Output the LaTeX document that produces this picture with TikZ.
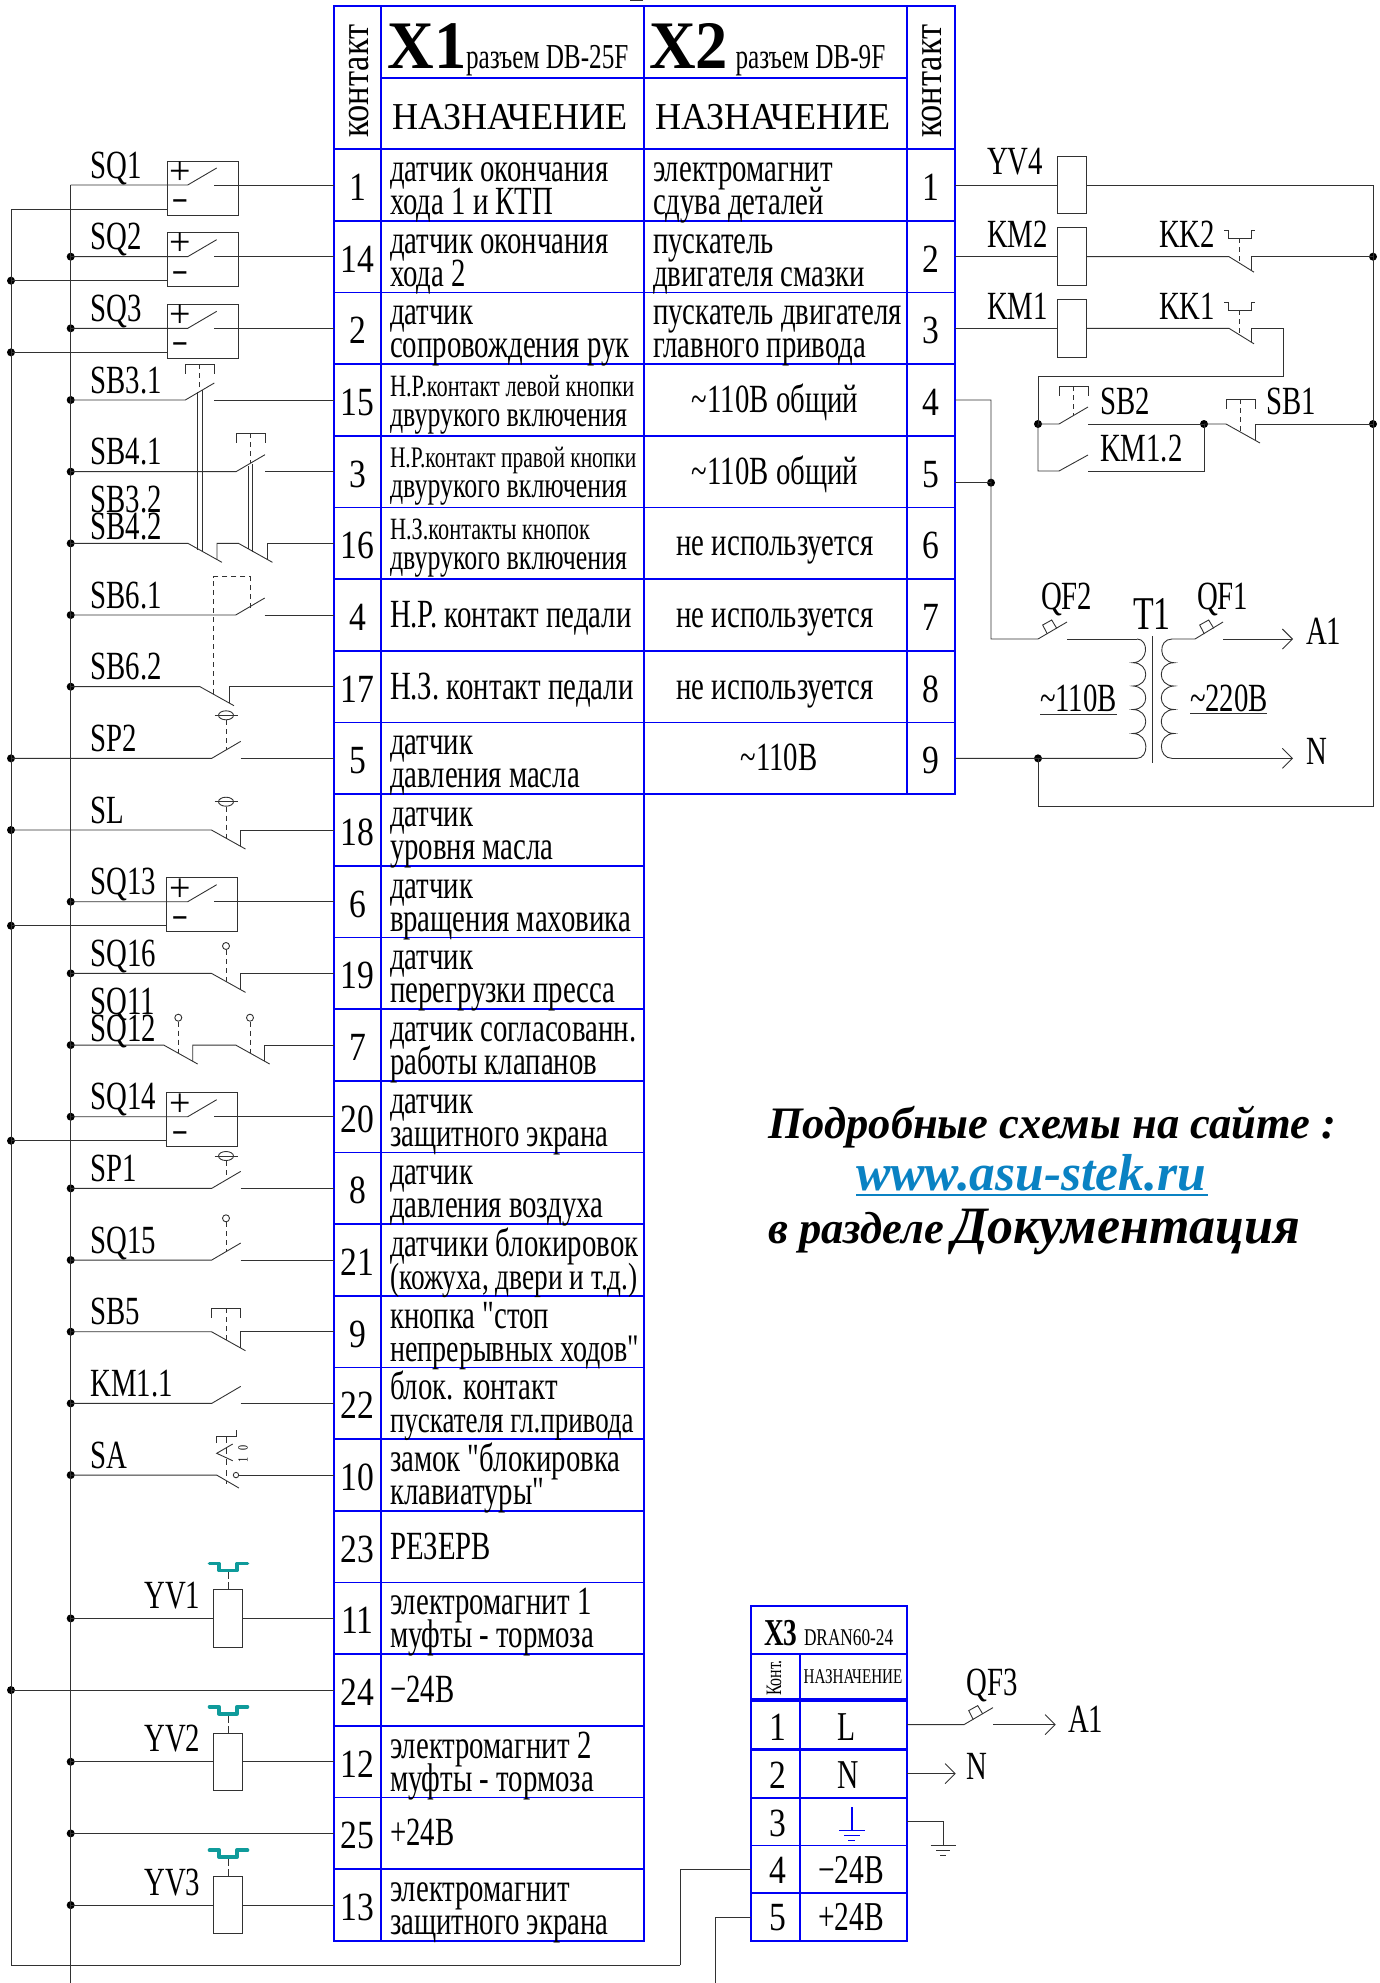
\documentclass[tikz,border=0pt]{standalone}
\usepackage{fontspec}
\setmainfont[FakeStretch=0.72]{Liberation Serif}
\newfontfamily\hdrf[FakeStretch=0.95]{Liberation Serif}
\newfontfamily\annf[FakeStretch=0.99]{Liberation Serif}
\newfontfamily\pinf[FakeStretch=0.84]{Liberation Serif}
\newfontfamily\plainf[FakeStretch=0.72]{Liberation Serif}
\newfontfamily\djf{DejaVu Sans}
\usetikzlibrary{arrows.meta,calc}
\definecolor{tbl}{RGB}{0,0,245}
\definecolor{wirec}{RGB}{50,50,50}
\definecolor{tealc}{RGB}{15,155,155}
\definecolor{linkc}{RGB}{10,130,195}
\newcommand{\fs}[1]{\fontsize{#1}{#1}\selectfont}
\newcommand{\qq}{{\plainf"}}
\tikzset{
  cell/.style={draw=tbl,line width=1.8pt,inner sep=0pt,outer sep=0pt,rectangle},
  wire/.style={draw=wirec,line width=0.9pt},
  dashw/.style={wire,dash pattern=on 5pt off 4pt},
  dot/.style={circle,fill=black,inner sep=0pt,minimum size=8pt},
  nodot/.style={coordinate},
  tx/.style={inner sep=0pt,outer sep=0pt,anchor=base west,font=\fs{40}},
  txc/.style={inner sep=0pt,outer sep=0pt,anchor=base,font=\fs{40}},
  dev/.style={inner sep=0pt,outer sep=0pt,anchor=base west,font=\fs{40}},
  pin/.style={inner sep=0pt,outer sep=0pt,anchor=base,font=\pinf\fs{40}},
  boxs/.style={draw=wirec,line width=0.9pt,minimum width=71pt,minimum height=54pt,inner sep=0pt,outer sep=0pt,rectangle},
  coils/.style={draw=wirec,line width=0.9pt,minimum width=29pt,minimum height=57.5pt,inner sep=0pt,outer sep=0pt,rectangle,fill=white},
  barb/.style={-{Straight Barb[length=10pt,width=20pt,line width=0.9pt]}},
}
\newcounter{nn}
\newcommand{\T}[4][tx]{\stepcounter{nn}\node[#1] (t\arabic{nn}) at (#2,#3) {#4};}
\newcommand{\pyc}[1]{\pgfmathsetmacro\yc{185+71.67*#1}}
\newcommand{\NOw}[2]{\pyc{#1}%
  \draw[wire] (B#1.center) -- (#2,\yc) -- ++(29,-17);
  \draw[wire] (#2+29,\yc) -- (La#1.west);}
\newcommand{\NCw}[2]{\pyc{#1}%
  \draw[wire] (B#1.center) -- (#2,\yc) -- ++(34,19);
  \draw[wire] (#2+29,\yc+16) -- (#2+29,\yc) -- (La#1.west);}
\newcommand{\SQbox}[3]{\pyc{#1}%
  \node[boxs] (Bx#1) at (#2,\yc+3) {};
  \node[#3] (C#1) at (11,\yc+24) {};
  \draw[wire] (B#1.center) -- (187.7,\yc) -- ++(29,-17);
  \draw[wire] (214,\yc) -- (La#1.west);
  \draw[wire] (C#1.center) -- (C#1 -| Bx#1.west);
  \T[inner sep=0pt,anchor=center,font=\hdrf\fs{40}]{180.5}{\yc-12}{+}
  \T[inner sep=0pt,anchor=base,font=\djf\bfseries\fs{21}]{180}{\yc+22.5}{−}}
\newcommand{\ballact}[3]{\draw[wire] (#1,#2) circle[radius=3.5];\draw[dashw] (#1,#2+4) -- (#1,#3);}
\newcommand{\floatact}[3]{\draw[wire] (#1,#2) ellipse[x radius=7.5,y radius=4.5];\draw[wire] (#1-11.5,#2) -- (#1+11.5,#2);\draw[dashw] (#1,#2+5) -- (#1,#3);}
\newcommand{\btn}[4]{\draw[wire] (#1,#3+9.5) -- (#1,#3) -- (#2,#3) -- (#2,#3+9.5);\draw[dashw] ({(#1+#2)/2},#3) -- ({(#1+#2)/2},#4);}
\newcommand{\therm}[2]{\draw[wire] (#1-4.5,#2-8) -- (#1,#2-8) -- (#1,#2) -- (#1+22.5,#2) -- (#1+22.5,#2-8) -- (#1+26.5,#2-8);\draw[dashw] (#1+10.5,#2) -- (#1+10.5,#2+24);}
\newcommand{\qfs}[2]{\draw[wire] (#1+9.3,#2-5) -- (#1+4.7,#2-14) -- (#1+13.7,#2-19) -- (#1+18.7,#2-10.7);}
\newcommand{\tealsym}[1]{\pyc{#1}\draw[tealc,line width=3.6pt,line cap=round,line join=round] (209.5,\yc-55) -- (219,\yc-55) -- (219,\yc-48) -- (237,\yc-48) -- (237,\yc-55) -- (247.5,\yc-55);
  \draw[wire,dash pattern=on 7pt off 3pt] (228.7,\yc-46) -- (228.7,\yc-29);}
\newcommand{\coilrow}[1]{\pyc{#1}\node[coils] (Cl#1) at (228.3,\yc) {};
  \draw[wire] (B#1.center) -- (Cl#1.west);\draw[wire] (Cl#1.east) -- (La#1.west);\tealsym{#1}}
\begin{document}
\begin{tikzpicture}[x=1pt,y=-1pt]
\useasboundingbox (0,0) rectangle (1380,1983);
\draw[wire] (630,0.6) -- (643,0.6);
% ---- main table cells
\node[cell,minimum width=47pt,minimum height=143pt] (HL) at (357.5,77.5) {};
\node[cell,minimum width=263pt,minimum height=72pt] (Hx1) at (512.5,42) {};
\node[cell,minimum width=263pt,minimum height=71pt] (Hn1) at (512.5,113.5) {};
\node[cell,minimum width=263pt,minimum height=72pt] (Hx2) at (775.5,42) {};
\node[cell,minimum width=263pt,minimum height=71pt] (Hn2) at (775.5,113.5) {};
\node[cell,minimum width=48pt,minimum height=143pt] (HR) at (931,77.5) {};
\foreach \k in {0,...,24}{\pyc{\k}
  \node[cell,minimum width=47pt,minimum height=71.67pt] (La\k) at (357.5,\yc) {};
  \node[cell,minimum width=263pt,minimum height=71.67pt] (Da\k) at (512.5,\yc) {};}
\foreach \k in {0,...,8}{\pyc{\k}
  \node[cell,minimum width=263pt,minimum height=71.67pt] (Db\k) at (775.5,\yc) {};
  \node[cell,minimum width=48pt,minimum height=71.67pt] (Ra\k) at (931,\yc) {};}
% header text
\T[anchor=base,inner sep=0pt,rotate=90,font=\pinf\fs{41}]{368}{81}{контакт}
\T[anchor=base,inner sep=0pt,rotate=90,font=\pinf\fs{41}]{941}{81}{контакт}
\T[tx,font=\hdrf\bfseries\fs{68}]{387.5}{69}{X1}
\T[tx,font=\fs{35}]{466}{69}{разъем DB-25F}
\T[tx,font=\hdrf\bfseries\fs{68}]{649}{69}{X2}
\T[tx,font=\fs{35}]{735.5}{69}{разъем DB-9F}
\T[tx,font=\hdrf\fs{38}]{392}{129.5}{НАЗНАЧЕНИЕ}
\T[tx,font=\hdrf\fs{38}]{655}{129.5}{НАЗНАЧЕНИЕ}
% pins
\foreach \k/\p in {0/1,1/14,2/2,3/15,4/3,5/16,6/4,7/17,8/5,9/18,10/6,11/19,12/7,13/20,14/8,15/21,16/9,17/22,18/10,19/23,20/11,21/24,22/12,23/25,24/13}{\pyc{\k}
  \T[pin]{357.5}{\yc+15.5}{\p}}
\foreach \k/\p in {0/1,1/2,2/3,3/4,4/5,5/6,6/7,7/8,8/9}{\pyc{\k}
  \T[pin]{931}{\yc+15.5}{\p}}
% X1 two line
\foreach \k/\a/\b in {0/{датчик окончания}/{хода 1 и КТП},1/{датчик окончания}/{хода 2},2/{датчик}/{сопровождения рук},8/{датчик}/{давления масла},9/{датчик}/{уровня масла},10/{датчик}/{вращения маховика},11/{датчик}/{перегрузки пресса},12/{датчик согласованн.}/{работы клапанов},13/{датчик}/{защитного экрана},14/{датчик}/{давления воздуха},15/{датчики блокировок}/{\fs{38}(кожуха, двери и т.д.)},16/{кнопка \qq стоп}/{\fs{39}непрерывных ходов\qq},17/{блок. контакт}/{\fs{37.5}пускателя гл.привода},18/{замок \qq блокировка}/{клавиатуры\qq},20/{электромагнит 1}/{муфты - тормоза},22/{электромагнит 2}/{муфты - тормоза},24/{электромагнит}/{защитного экрана}}{\pyc{\k}
  \T{390}{\yc-3.5}{\a}\T{390}{\yc+29.5}{\b}}
\foreach \k/\a/\z in {3/{Н.Р.контакт левой кнопки}/31,4/{Н.Р.контакт правой кнопки}/29.8,5/{Н.З.контакты кнопок}/31}{\pyc{\k}
  \T[tx,font=\fs{\z}]{390}{\yc-4}{\a}\T[tx,font=\fs{36}]{390}{\yc+26}{двурукого включения}}
\foreach \k/\a in {6/{Н.Р. контакт педали},7/{Н.З. контакт педали},19/{РЕЗЕРВ},21/{−24В},23/{+24В}}{\pyc{\k}
  \T{390}{\yc+12.5}{\a}}
% X2
\foreach \k/\a/\b in {0/{электромагнит}/{сдува деталей},1/{пускатель}/{двигателя смазки},2/{пускатель двигателя}/{главного привода}}{\pyc{\k}
  \T{653}{\yc-3.5}{\a}\T{653}{\yc+29.5}{\b}}
\foreach \k/\a/\xx in {3/{\textasciitilde110В общий}/775,4/{\textasciitilde110В общий}/775,5/{не используется}/775,6/{не используется}/775,7/{не используется}/775,8/{\textasciitilde110В}/779}{\pyc{\k}
  \T[txc]{\xx}{\yc+12.5}{\a}}
% ---- bus dots
\foreach \k in {1,2,3,4,5,6,7,10,11,12,13,14,15,16,17,18,20,22,23,24}{\pyc{\k}
  \node[dot] (B\k) at (70.7,\yc) {};}
\foreach \k in {8,9,21}{\pyc{\k}
  \node[dot] (B\k) at (11,\yc) {};}
\node[nodot] (B0) at (70.7,185) {};
% boxes
\SQbox{0}{202.5}{nodot}
\SQbox{1}{202.5}{dot}
\SQbox{2}{202.5}{dot}
\SQbox{10}{202}{dot}
\SQbox{13}{202}{dot}
% buses
\coordinate (botL) at (11,1965);
\coordinate (botM) at (70.7,1983);
\coordinate (x3a) at (680,1965);
\coordinate (x3b) at (715.7,1983);
\draw[wire] (C0.center) -- (botL) -- (x3a);
\draw[wire] (B0.center) -- (botM);
% NO contacts
\NOw{3}{185.3}
\btn{185.3}{214}{364}{390}
\NOw{4}{236}
\btn{236}{265}{433}{463}
% row 5 double NC
\pyc{5}
\draw[wire] (B5.center) -- (188,\yc) -- ++(34,19);
\draw[wire] (217,\yc+16) -- (217,\yc) -- (238.5,\yc) -- ++(34,19);
\draw[wire] (267.5,\yc+16) -- (267.5,\yc) -- (La5.west);
\draw[wire] (197.7,392) -- (197.7,550);
\draw[wire] (202,390) -- (202,552);
\draw[wire] (248.7,466) -- (248.7,549);
\draw[wire] (252.7,464) -- (252.7,552);
% SB6
\NOw{6}{235.7}
\draw[dashw] (250,608) -- (250,576.7) -- (213.7,576.7) -- (213.7,695);
\NCw{7}{200}
\NOw{8}{211.7}
\floatact{226}{715.3}{750}
\NCw{9}{211.5}
\floatact{226}{801.7}{838}
\NCw{11}{211.5}
\ballact{226}{946}{982}
% row 12
\pyc{12}
\draw[wire] (B12.center) -- (163.7,\yc) -- ++(34,19);
\draw[wire] (192.7,\yc+16) -- (192.7,\yc) -- (235.7,\yc) -- ++(34,19);
\draw[wire] (264.5,\yc+16) -- (264.5,\yc) -- (La12.west);
\ballact{178.3}{1017.7}{1053}
\ballact{250}{1017.7}{1053}
\NOw{14}{211.7}
\floatact{226}{1156}{1179}
\NOw{15}{211.7}
\ballact{226}{1218.3}{1251}
\NCw{16}{211.5}
\btn{211.5}{240.5}{1308}{1340}
\NOw{17}{211.7}
% SA
\pyc{18}
\draw[wire] (B18.center) -- (216.7,\yc) -- (239,\yc+13);
\draw[wire] (236,\yc) circle[radius=2.7];
\draw[wire] (238.7,\yc) -- (La18.west);
\draw[wire] (216.7,1443) -- (216.7,1436.7) -- (236,1436.7) -- (236,1430);
\draw[wire] (232.7,1444) -- (216.7,1453.3) -- (232.7,1460.7);
\draw[wire,dash pattern=on 6pt off 5pt] (226,1437) -- (226,1484);
\T[inner sep=0pt,rotate=90,font=\fs{14}]{243}{1448}{0}
\T[inner sep=0pt,rotate=90,font=\fs{14}]{243}{1460}{1}
% coils left
\coilrow{20}
\coilrow{22}
\coilrow{24}
\pyc{21}\draw[wire] (B21.center) -- (La21.west);
\pyc{23}\draw[wire] (B23.center) -- (La23.west);
% device labels
\foreach \k/\s in {0/SQ1,1/SQ2,2/SQ3,3/SB3.1,4/SB4.1,6/SB6.1,7/SB6.2,8/SP2,9/SL,10/SQ13,11/SQ16,13/SQ14,14/SP1,15/SQ15,16/SB5,17/KM1.1,18/SA}{\pyc{\k}
  \T[dev]{90.5}{\yc-7}{\s}}
\T[dev]{90.5}{512.5}{SB3.2}
\T[dev]{90.5}{539}{SB4.2}
\T[dev]{90.5}{1014}{SQ11}
\T[dev]{90.5}{1041.5}{SQ12}
\foreach \k/\s in {20/YV1,22/YV2,24/YV3}{\pyc{\k}
  \T[dev]{144.3}{\yc-10}{\s}}
% ---- right side
\node[coils] (Y4) at (1071.5,185) {};
\node[coils] (K2) at (1071.5,256.67) {};
\node[coils] (K1) at (1071.5,328.34) {};
\coordinate (busR0) at (1373,185);
\node[dot] (dR2) at (1373,256.67) {};
\node[dot] (dR3) at (1373,424) {};
\node[dot] (dS2) at (1038,424) {};
\node[dot] (dS1) at (1204,424) {};
\node[dot] (d5) at (991,482.68) {};
\node[dot] (d9) at (1038,758.36) {};
\coordinate (busRb) at (1373,806);
\draw[wire] (Ra0.east) -- (Y4.west);
\draw[wire] (Y4.east) -- (busR0) -- (busRb) -- (1038,806) -- (d9.center);
\draw[wire] (Ra1.east) -- (K2.west);
\draw[wire] (K2.east) -- (1229,256.67) -- ++(25,15.5);
\draw[wire] (1251,271) -- (1251,256.67) -- (dR2.center);
\therm{1228.5}{238}
\draw[wire] (Ra2.east) -- (K1.west);
\draw[wire] (K1.east) -- (1229,328.34) -- ++(25,15.5);
\draw[wire] (1251,342) -- (1251,328.34) -- (1283,328.34) -- (1283,376) -- (1038,376) -- (dS2.center);
\therm{1228.5}{310}
\draw[wire] (dS2.center) -- (1059,424) -- ++(29,-17);
\draw[wire] (1088,424) -- (dS1.center);
\btn{1059}{1088}{386}{415}
\draw[wire] (dS2.center) -- (1038,471) -- (1059,471) -- ++(29,-16);
\draw[wire] (1088,471) -- (1204,471) -- (dS1.center);
\draw[wire] (dS1.center) -- (1226,424) -- ++(34,19);
\draw[wire] (1255,440) -- (1255,424) -- (dR3.center);
\btn{1226}{1255}{399}{432}
\T[dev]{987}{175}{YV4}
\T[dev]{987}{247}{KM2}
\T[dev]{987}{319}{KM1}
\T[dev]{1159}{247}{KK2}
\T[dev]{1159}{319}{KK1}
\T[dev]{1100}{414}{SB2}
\T[dev]{1100}{461}{KM1.2}
\T[dev]{1266}{414}{SB1}
% transformer
\draw[wire] (Ra3.east) -- (991,400.01) -- (991,639) -- (1038,639) -- ++(29,-17);
\draw[wire] ([yshift=-11pt]Ra4.east) -- (d5.center);
\draw[wire] (1067,639) -- (1137,639);
\qfs{1038}{639}
\draw[wire] (1137,639) .. controls (1149,639) and (1149,662) .. (1133,662.7)
  .. controls (1150,663) and (1150,686) .. (1133,686)
  .. controls (1150,687) and (1150,709) .. (1133,709.5)
  .. controls (1150,710) and (1150,733) .. (1133,733.5)
  .. controls (1150,734) and (1149,758.36) .. (1137,758.36);
\draw[wire] (1152.7,636) -- (1152.7,763);
\draw[wire] (1172,639) .. controls (1158,639) and (1158,662) .. (1174,662.7)
  .. controls (1157,663) and (1157,686) .. (1174,686)
  .. controls (1157,687) and (1157,709) .. (1174,709.5)
  .. controls (1157,710) and (1157,733) .. (1174,733.5)
  .. controls (1157,734) and (1158,758.36) .. (1172,758.36);
\coordinate (tipA) at (1293,639);
\coordinate (tipN) at (1293,758.36);
\draw[wire] (1172,639) -- (1195,639) -- ++(28,-17);
\qfs{1195}{639}
\draw[wire,barb] (1223,639) -- (tipA);
\draw[wire,barb] (1172,758.36) -- (tipN);
\draw[wire] (Ra8.east) -- (d9.center) -- (1137,758.36);
\T[dev]{1041}{609}{QF2}
\T[dev]{1197}{609}{QF1}
\T[dev,font=\fs{47}]{1133}{629}{T1}
\T[dev]{1306}{644}{A1}
\T[dev]{1306}{764}{N}
\T[dev]{1040}{711}{\textasciitilde110В}
\T[dev]{1190}{711}{\textasciitilde220В}
\draw[wire] (1040,714) -- (1117,714);
\draw[wire] (1190,713.5) -- (1267,713.5);
% ---- annotation
\T[tx,font=\annf\bfseries\itshape\fs{45}]{768}{1138}{Подробные схемы на сайте :}
\T[tx,font=\annf\bfseries\itshape\fs{52}]{856}{1190}{\textcolor{linkc}{www.asu-stek.ru}}
\draw[linkc,line width=1.6pt] (856,1195) -- (1208,1195);
\T[tx,font=\annf\bfseries\itshape\fs{45}]{768}{1243}{в разделе}
\T[tx,font=\annf\bfseries\itshape\fs{52.5}]{952}{1243}{Документация}
% ---- X3
\node[cell,minimum width=155.7pt,minimum height=47.7pt] (X3t) at (829.15,1629.85) {};
\node[cell,minimum width=48.4pt,minimum height=45.6pt] (X3k) at (775.5,1676.5) {};
\node[cell,minimum width=107.3pt,minimum height=45.6pt] (X3n) at (853.35,1676.5) {};
\foreach \k/\yy/\p/\a/\bb/\xx in {1/1724.6/1/L/1740/847,2/1773.6/2/N/1788/848,3/1821.5/3//1836/851,4/1869.4/4/−24В/1883/851,5/1917.2/5/+24В/1930/851}{
  \node[cell,minimum width=48.4pt,minimum height=48pt] (Xp\k) at (775.5,\yy) {};
  \node[cell,minimum width=107.3pt,minimum height=48pt] (Xd\k) at (853.35,\yy) {};
  \T[pin]{778}{\bb}{\p}
  \T[pin,font=\fs{41}]{\xx}{\bb}{\a}}
\T[tx,font=\bfseries\fs{38}]{764}{1645}{X3}
\T[tx,font=\fs{24}]{804}{1645}{DRAN60-24}
\T[anchor=center,inner sep=0pt,rotate=90,font=\fs{22}]{774}{1678}{Конт.}
\T[anchor=center,inner sep=0pt,font=\fs{21}]{853}{1677}{НАЗНАЧЕНИЕ}
\draw[tbl,line width=1.6pt] (851.7,1807) -- (851.7,1830) (839,1830.5) -- (865,1830.5) (844,1835.5) -- (860,1835.5) (848,1840.5) -- (855,1840.5);
\coordinate (tipA3) at (1055.7,1724.6);
\coordinate (tipN3) at (955.7,1773.6);
\draw[wire] (Xd1.east) -- (964,1724.6) -- ++(29,-17);
\qfs{964}{1724.6}
\draw[wire,barb] (993,1724.6) -- (tipA3);
\draw[wire,barb] (Xd2.east) -- (tipN3);
\draw[wire] (Xd3.east) -- (943,1821.5) -- (943,1845);
\draw[wire] (930.7,1845) -- (956,1845) (936,1850) -- (950,1850) (940,1855) -- (946,1855);
\T[dev]{966.7}{1695}{QF3}
\T[dev]{1068}{1732}{A1}
\T[dev]{966.7}{1779}{N}
\draw[wire] (x3a) -- (680,1869.4) -- (Xp4.west);
\draw[wire] (x3b) -- (715.7,1917.2) -- (Xp5.west);
\end{tikzpicture}
\end{document}
